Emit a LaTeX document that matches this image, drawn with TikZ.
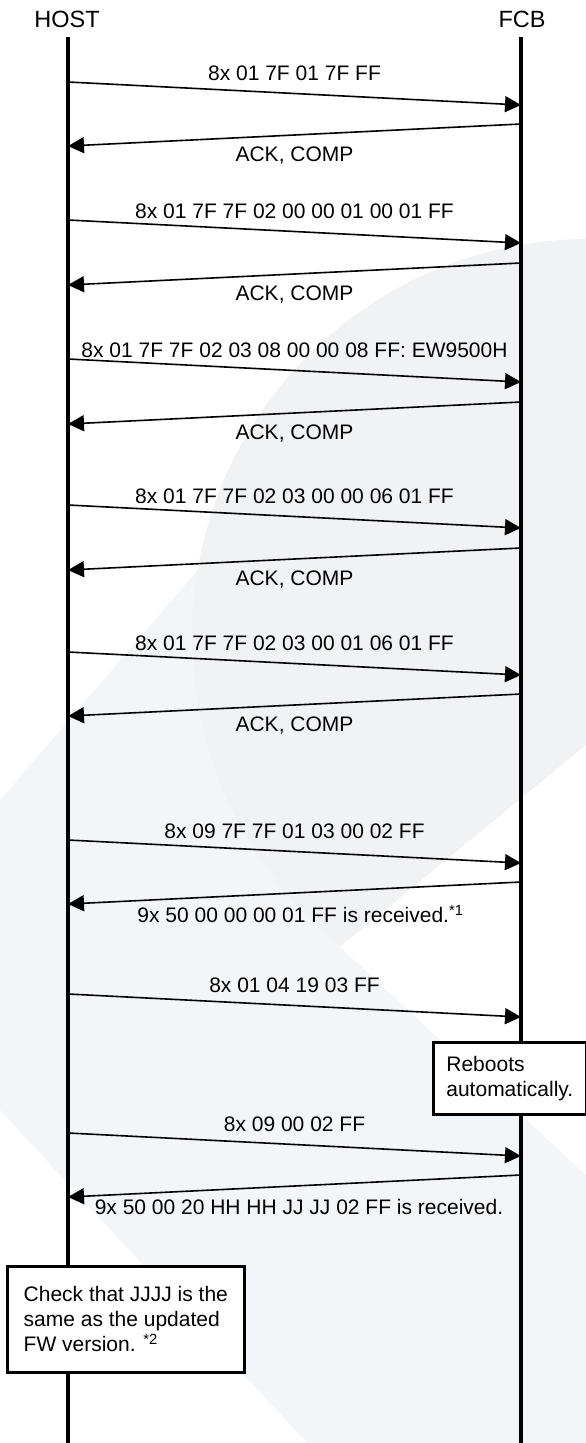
\documentclass[tikz,border=0pt]{standalone}
\usepackage{fontspec}
\setmainfont{Liberation Sans}
\usetikzlibrary{arrows.meta,calc}
\definecolor{wmblue}{HTML}{F2F6F9}
\definecolor{wmgray}{HTML}{F1F2F4}
\tikzset{
  lifeline/.style={line width=3.2pt},
  msg/.style={line width=1.6pt,-{Triangle[length=16pt,width=16pt]}},
  lbl/.style={font=\fontsize{21}{25}\selectfont,inner sep=0pt},
  party/.style={font=\fontsize{23.5}{27}\selectfont,inner sep=0pt},
  note/.style={draw,line width=2.6pt,fill=white,font=\fontsize{21}{25}\selectfont,align=left,anchor=north west,inner ysep=0pt},
}

\begin{document}
\begin{tikzpicture}[x=1pt,y=-1pt]
  \useasboundingbox (0,0) rectangle (586,1443);
  % faint watermark in the background
  \fill[wmblue] (0,800) -- (258,500) -- (440,300) -- (520,420) -- (340,947) -- (586,1175) -- (586,1443) -- (307,1443) -- (0,1110) -- cycle;
  \begin{scope}
    \clip (0,0) -- (586,0) -- (586,745) -- (340,947) -- (0,1226) -- cycle;
    \fill[wmgray] (589,636) circle (397);
  \end{scope}
  % the two parties and their lifelines
  \node[party] (host) at (67,19) {HOST};
  \node[party] (fcb) at (522,19) {FCB};
  \coordinate (host top) at (68,37);  \coordinate (host end) at (68,1443);
  \coordinate (fcb top) at (521,37);  \coordinate (fcb end) at (521,1443);
  \draw[lifeline] (host top) -- (host end);
  \draw[lifeline] (fcb top) -- (fcb end);
  % commands HOST -> FCB
  \foreach \i/\y/\txt in {1/82/{8x 01 7F 01 7F FF}, 2/220/{8x 01 7F 7F 02 00 00 01 00 01 FF},
      3/359/{8x 01 7F 7F 02 03 08 00 00 08 FF: EW9500H}, 4/505/{8x 01 7F 7F 02 03 00 00 06 01 FF},
      5/652/{8x 01 7F 7F 02 03 00 01 06 01 FF}, 6/840/{8x 09 7F 7F 01 03 00 02 FF},
      7/994/{8x 01 04 19 03 FF}, 8/1133/{8x 09 00 02 FF}} {
    \coordinate (cmd\i) at (68,\y);
    \coordinate (cmd\i end) at (521,\y+23);
    \draw[msg] (cmd\i) -- (cmd\i end);
    \node[lbl] (cmdlbl\i) at ($(cmd\i)!0.5!(cmd\i end)+(0,-20)$) {\txt};
  }
  % replies FCB -> HOST
  \foreach \i/\y/\dx/\txt in {1/124/0/{ACK, COMP}, 2/263/0/{ACK, COMP}, 3/402/0/{ACK, COMP},
      4/548/0/{ACK, COMP}, 5/694/0/{ACK, COMP},
      6/882/6/{9x 50 00 00 00 01 FF is received.\textsuperscript{*1}},
      8/1175/4.5/{9x 50 00 20 HH HH JJ JJ 02 FF is received.}} {
    \coordinate (rep\i) at (521,\y);
    \coordinate (rep\i end) at (68,\y+22);
    \draw[msg] (rep\i) -- (rep\i end);
    \node[lbl] (replbl\i) at ($(rep\i)!0.5!(rep\i end)+(\dx,21)$) {\txt};
  }
  % notes
  \node[note,minimum width=153pt,minimum height=72pt,inner xsep=12pt] (reboot) at (432,1041) {Reboots\\automatically.};
  \node[note,minimum width=237pt,minimum height=106pt,inner xsep=14pt] (check) at (6,1265) {Check that JJJJ is the\\same as the updated\\FW version. \textsuperscript{*2}};
\end{tikzpicture}
\end{document}
